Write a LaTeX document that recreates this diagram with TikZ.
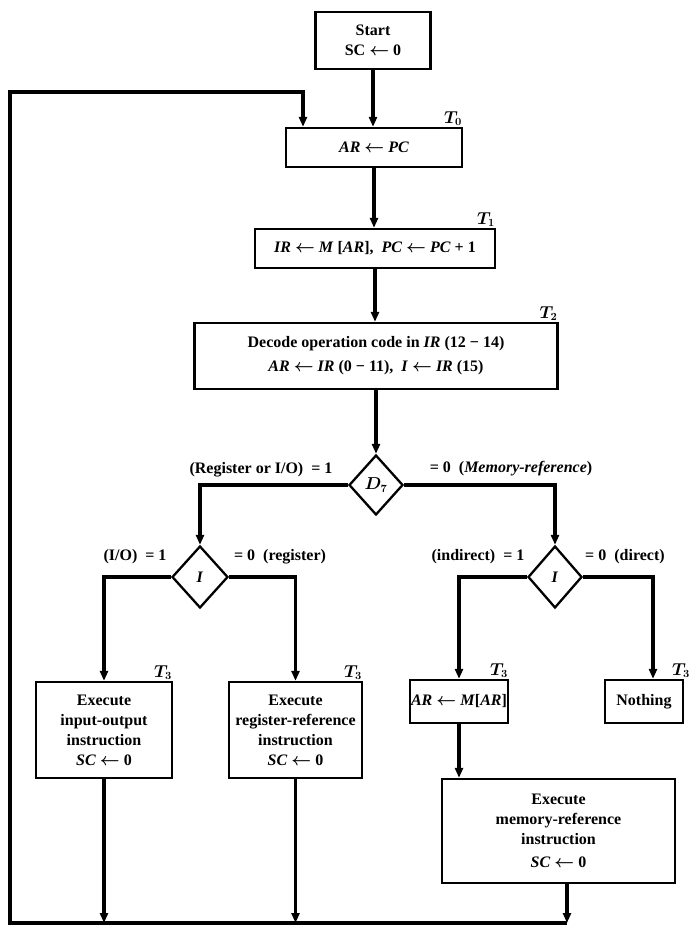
\documentclass[tikz,border=0pt]{standalone}
\usepackage{fontspec}
\setmainfont{Liberation Serif}
\usetikzlibrary{shapes.geometric,arrows.meta}
\newcommand\getsarr{\ensuremath{\leftarrow}}
\begin{document}
\begin{tikzpicture}[x=1pt,y=-1pt,
  every node/.style={font=\bfseries\boldmath\fontsize{16}{20}\selectfont},
  box/.style={draw, line width=2.3pt, inner sep=0pt, align=center},
  dia/.style={draw, diamond, line width=2.3pt, inner sep=0pt},
  conn/.style={line width=3.4pt},
  arr/.style={conn, -{Triangle[length=10pt,width=8pt]}},
  tl/.style={inner sep=1pt},
  lbl/.style={inner sep=0pt}]
\useasboundingbox (0,0) rectangle (690,925);

% process boxes
\node[box, minimum width=115pt, minimum height=57pt] (start) at (373,40.5) {Start\\SC \getsarr{} 0};
\node[box, minimum width=176pt, minimum height=39pt] (ar) at (374,147.5) {\textit{AR} \getsarr{} \textit{PC}};
\node[box, minimum width=240pt, minimum height=39pt] (ir) at (375,248.5) {\textit{IR} \getsarr{} \textit{M} [\textit{AR}], \ \textit{PC} \getsarr{} \textit{PC} + 1};
\node[box, minimum width=363pt, minimum height=66pt] (dec) at (376,356) {Decode operation code in \textit{IR} (12 − 14)\\[4pt]\textit{AR} \getsarr{} \textit{IR} (0 − 11), \ \textit{I} \getsarr{} \textit{IR} (15)};

% decisions
\node[dia, minimum width=54pt, minimum height=60pt] (d7) at (376,485) {$D_7$};
\node[dia, minimum width=56pt, minimum height=62pt] (il) at (200,577) {\textit{I}};
\node[dia, minimum width=54pt, minimum height=62pt] (ir2) at (555,577) {\textit{I}};

% lower boxes
\node[box, minimum width=136pt, minimum height=96pt] (io) at (104,730) {Execute\\input-output\\instruction\\\textit{SC} \getsarr{} 0};
\node[box, minimum width=133pt, minimum height=96pt] (reg) at (295.5,730) {Execute\\register-reference\\instruction\\\textit{SC} \getsarr{} 0};
\node[box, minimum width=98pt, minimum height=43pt] (arm) at (459,701.5) {\textit{AR} \getsarr{} \textit{M}[\textit{AR}]};
\node[box, minimum width=78pt, minimum height=43pt] (noth) at (644,701.5) {Nothing};
\node[box, minimum width=233pt, minimum height=104pt] (mem) at (558.5,831) {Execute\\memory-reference\\instruction\\[3pt]\textit{SC} \getsarr{} 0};

% timing labels
\node[tl, anchor=south east] (t0) at (ar.north east) {$T_0$};
\node[tl, anchor=south east] (t1) at (ir.north east) {$T_1$};
\node[tl, anchor=south east] (t2) at (dec.north east) {$T_2$};
\node[tl, anchor=south east] (t3a) at (io.north east) {$T_3$};
\node[tl, anchor=south east] (t3b) at (reg.north east) {$T_3$};
\node[tl, anchor=south east] (t3c) at (arm.north east) {$T_3$};
\node[tl, anchor=south east] (t3d) at ([xshift=7pt]noth.north east) {$T_3$};

% branch labels
\node[lbl] (lregio) at (261,470) {(Register or I/O) \ = 1};
\node[lbl] (lmem) at (511,469) {= 0 \ (\textit{Memory-reference})};
\node[lbl] (lio) at (135,557) {(I/O) \ = 1};
\node[lbl] (lreg) at (280,557) {= 0 \ (register)};
\node[lbl] (lind) at (478,557) {(indirect) \ = 1};
\node[lbl, anchor=west] (ldir) at (585,557) {= 0 \ (direct)};

% helper coordinates
\coordinate (bot) at (10,923);
\coordinate (top) at (10,92);
\coordinate (lx) at (303,0);
\coordinate (nx) at (653,0);
\coordinate (mx) at (567,0);

% main spine
\draw[arr] (start.south) -- (start.south |- ar.north);
\draw[arr] (ar.south) -- (ar.south |- ir.north);
\draw[arr] (ir.south) -- (ir.south |- dec.north);
\draw[arr] (dec.south) -- (dec.south |- d7.north);

% branches
\draw[arr] (d7.west) -| (il.north);
\draw[arr] (d7.east) -| (ir2.north);
\draw[arr] (il.west) -| (io.north);
\draw[arr] (il.east) -| (reg.north);
\draw[arr] (ir2.west) -| (arm.north);
\draw[arr] (ir2.east) -| (nx |- noth.north);
\draw[arr] (arm.south) -- (arm.south |- mem.north);

% returns
\draw[arr] (io.south) -- (io.south |- bot);
\draw[arr] (reg.south) -- (reg.south |- bot);
\draw[arr] (mx |- mem.south) -- (mx |- bot);
\draw[arr] (mx |- bot) -- (bot) -- (top) -- (lx |- top) -- (lx |- ar.north);
\end{tikzpicture}
\end{document}
